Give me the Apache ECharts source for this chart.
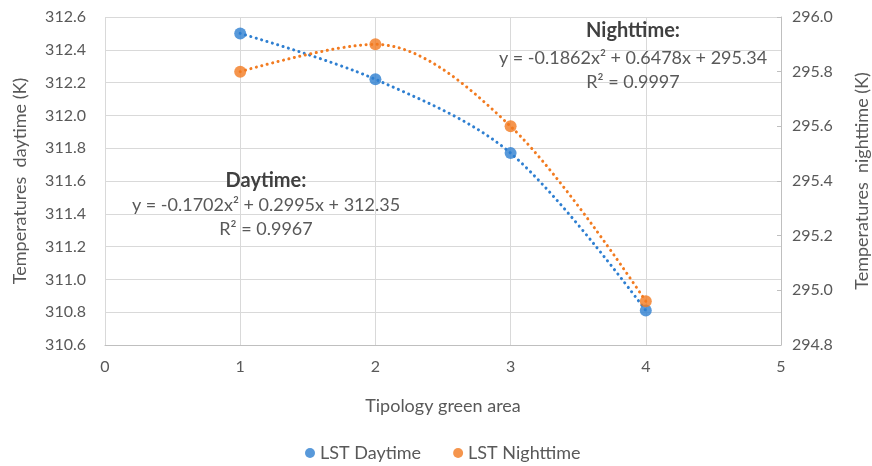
<!DOCTYPE html>
<html><head><meta charset="utf-8">
<script src="https://cdn.jsdelivr.net/npm/echarts@6/dist/echarts.min.js"></script>
<style>html,body{margin:0;padding:0;background:#fff}#c{width:872px;height:466px}</style>
</head><body><div id="c"></div>
<script>
const xValues = [1, 2, 3, 4];
const daytime = [312.50, 312.22, 311.77, 310.81];
const nighttime = [295.80, 295.90, 295.60, 294.96];
const seriesNames = ['LST Daytime', 'LST Nighttime'];
const dayLabel = ['Daytime:', 'y = -0.1702x² + 0.2995x + 312.35', 'R² = 0.9967'];
const nightLabel = ['Nighttime:', 'y = -0.1862x² + 0.6478x + 295.34', 'R² = 0.9997'];

const FONT = 'Lato';
const TXT = '#595959';
const BLUE = '#2E7FD1';
const ORANGE = '#F27B20';

const pairs = (ys) => xValues.map((x, i) => [x, ys[i]]);

const labelBlocks = [
  {lines: dayLabel, cx: 266, ys: [181, 205, 229]},
  {lines: nightLabel, cx: 633, ys: [31, 58, 82]}
];

const chart = echarts.init(document.getElementById('c'), null, {renderer: 'canvas'});
chart.setOption({
  animation: false,
  textStyle: {fontFamily: FONT, color: TXT},
  grid: {left: 105, right: 91, top: 17, bottom: 121, outerBoundsMode: 'none', containLabel: false},
  legend: {
    top: 439, left: 300, icon: 'circle', itemWidth: 10, itemHeight: 10, itemGap: 32,
    textStyle: {fontFamily: FONT, fontSize: 18, color: TXT},
    data: seriesNames
  },
  xAxis: {
    type: 'value', min: 0, max: 5, interval: 1,
    name: 'Tipology green area', nameLocation: 'middle', nameGap: 52,
    nameTextStyle: {fontFamily: FONT, fontSize: 18, color: TXT},
    axisLine: {lineStyle: {color: '#bfbfbf'}},
    axisTick: {show: false},
    axisLabel: {fontSize: 16, color: TXT, margin: 14},
    splitLine: {show: true, lineStyle: {color: '#d9d9d9'}}
  },
  yAxis: [{
    type: 'value', min: 310.6, max: 312.6, interval: 0.2,
    name: 'Temperatures  daytime (K)', nameLocation: 'middle', nameGap: 76, nameRotate: 90,
    nameTextStyle: {fontFamily: FONT, fontSize: 18, color: TXT},
    axisLine: {show: false}, axisTick: {show: false},
    axisLabel: {fontSize: 16, color: TXT, margin: 19, formatter: v => v.toFixed(1)},
    splitLine: {show: true, lineStyle: {color: '#d9d9d9'}}
  }, {
    type: 'value', min: 294.8, max: 296.0, interval: 0.2, position: 'right',
    name: 'Temperatures  nighttime (K)', nameLocation: 'middle', nameGap: 72, nameRotate: 90,
    nameTextStyle: {fontFamily: FONT, fontSize: 18, color: TXT},
    axisLine: {show: true, lineStyle: {color: '#bfbfbf'}},
    axisTick: {show: true, inside: true, length: 4, lineStyle: {color: '#bfbfbf'}},
    axisLabel: {fontSize: 16, color: TXT, margin: 11, formatter: v => v.toFixed(1)},
    splitLine: {show: false}
  }],
  series: [{
    name: seriesNames[0] + ' trend', type: 'line', yAxisIndex: 0, data: pairs(daytime),
    smooth: 0.33, showSymbol: false, silent: true, z: 2,
    lineStyle: {color: BLUE, width: 3, type: [0.1, 5.5], cap: 'round'}
  }, {
    name: seriesNames[1] + ' trend', type: 'line', yAxisIndex: 1, data: pairs(nighttime),
    smooth: 0.33, showSymbol: false, silent: true, z: 2,
    lineStyle: {color: ORANGE, width: 3, type: [0.1, 5.5], cap: 'round'}
  }, {
    name: seriesNames[0], type: 'scatter', yAxisIndex: 0, data: pairs(daytime),
    symbolSize: 12, itemStyle: {color: BLUE}, z: 3
  }, {
    name: seriesNames[1], type: 'scatter', yAxisIndex: 1, data: pairs(nighttime),
    symbolSize: 12, itemStyle: {color: ORANGE}, z: 3
  }],
  graphic: labelBlocks.flatMap(b => b.lines.map((t, i) => ({
    type: 'text', x: b.cx, y: b.ys[i], z: 10,
    style: {text: t, fill: i === 0 ? '#404040' : TXT,
            font: (i === 0 ? 'bold 20px ' : '18px ') + FONT,
            textAlign: 'center', textVerticalAlign: 'middle'}
  })))
});
</script></body></html>
